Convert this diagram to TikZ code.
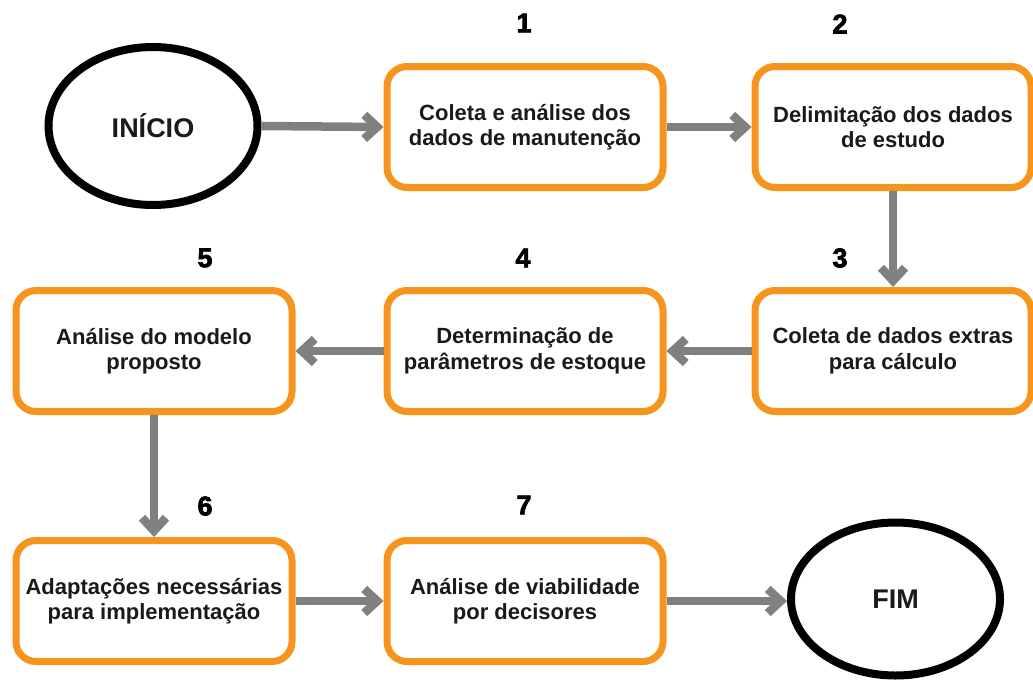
\documentclass[tikz,border=0pt]{standalone}
\usepackage{fontspec}
\setmainfont{Liberation Sans}
\newfontfamily\heavyfont[FakeBold=2.5]{Liberation Sans Bold}
\usetikzlibrary{arrows.meta,shapes.geometric}
\definecolor{org}{HTML}{F7941E}
\definecolor{arr}{HTML}{808080}
\definecolor{txt}{HTML}{1A1A1A}
\begin{document}
\begin{tikzpicture}[x=1pt,y=-1pt,
  stepbox/.style={draw=org,line width=7pt,rounded corners=20pt,minimum width=276pt,minimum height=121pt,align=center,text=txt,font=\fontsize{22}{25.5}\selectfont\bfseries,inner sep=2pt},
  term/.style={ellipse,draw=black,line width=8pt,minimum width=209pt,inner sep=0pt,font=\fontsize{27}{30}\selectfont\bfseries,text=txt},
  num/.style={font=\fontsize{27}{30}\heavyfont,text=black},
  flow/.style={draw=arr,line width=8.5pt,-{Straight Barb[length=13pt,width=24pt,line cap=butt,line join=miter]}}]
\useasboundingbox[fill=white] (0,0) rectangle (1033,681);
\node[term,minimum height=158pt] (ini) at (153,126) {INÍCIO};
\node[stepbox] (b1) at (525,127) {Coleta e análise dos\\dados de manutenção};
\node[stepbox] (b2) at (893,127) {Delimitação dos dados\\de estudo};
\node[stepbox] (b3) at (893,351) {Coleta de dados extras\\para cálculo};
\node[stepbox] (b4) at (525,351) {Determinação de\\parâmetros de estoque};
\node[stepbox] (b5) at (154,351) {Análise do modelo\\proposto};
\node[stepbox] (b6) at (154,601) {Adaptações necessárias\\para implementação};
\node[stepbox] (b7) at (525,601) {Análise de viabilidade\\por decisores};
\node[term,minimum height=153pt] (fim) at (895.5,599) {FIM};
\node[num] (n1) at (524,23) {1};
\node[num] (n2) at (840,24) {2};
\node[num] (n3) at (840,258) {3};
\node[num] (n4) at (523,258) {4};
\node[num] (n5) at (205,258) {5};
\node[num] (n6) at (205,506) {6};
\node[num] (n7) at (524,505) {7};
\draw[flow] (ini.east) -- (b1.west);
\draw[flow] (b1.east) -- (b2.west);
\draw[flow] (b2.south) -- (b3.north);
\draw[flow] (b3.west) -- (b4.east);
\draw[flow] (b4.west) -- (b5.east);
\draw[flow] (b5.south) -- (b6.north);
\draw[flow] (b6.east) -- (b7.west);
\draw[flow] (b7.east) -- (b7.east -| fim.west);
\end{tikzpicture}
\end{document}
